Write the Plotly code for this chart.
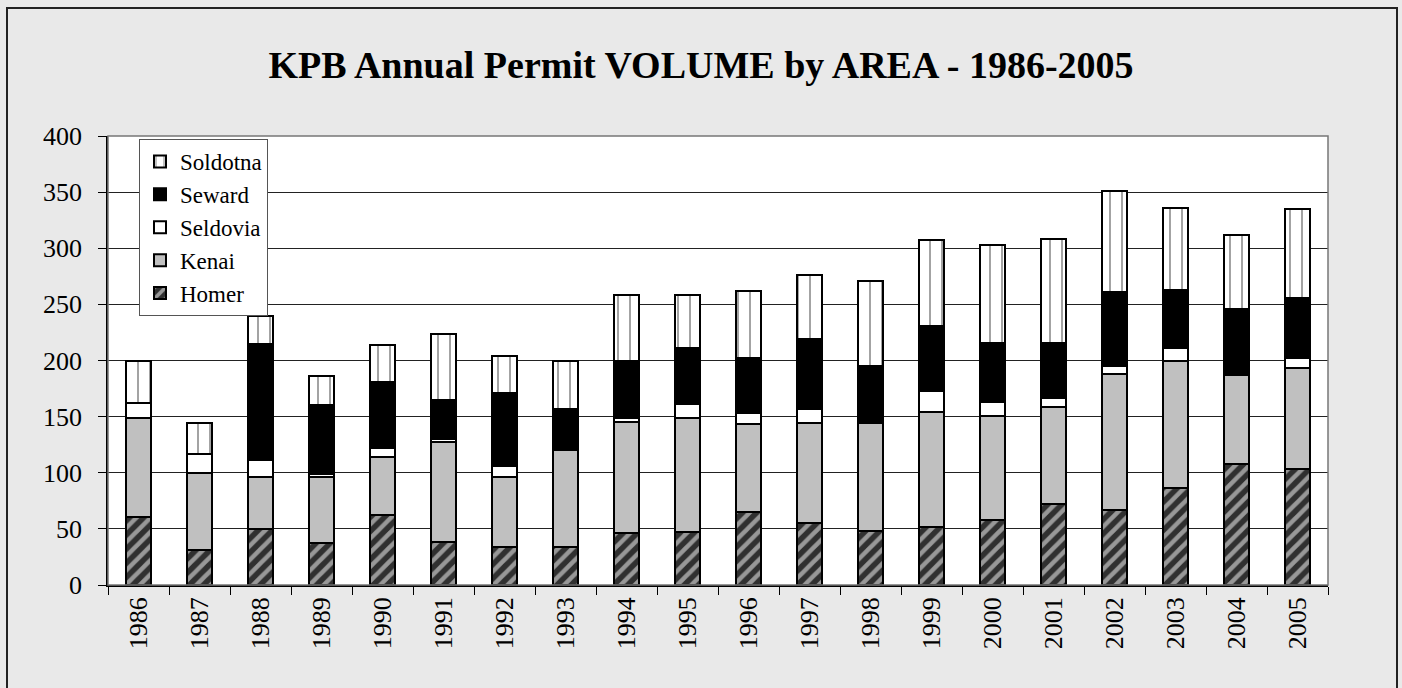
import plotly.graph_objects as go

years = [str(y) for y in range(1986, 2006)]
homer    = [61, 31, 50, 37, 62, 38, 34, 34, 46, 47, 65, 55, 48, 52, 58, 72, 67, 86, 108, 103]
kenai    = [88, 69, 46, 59, 52, 89, 62, 86, 99, 102, 78, 89, 96, 102, 93, 87, 121, 114, 79, 90]
seldovia = [13, 17, 15, 3, 8, 3, 10, 0, 4, 12, 10, 13, 0, 19, 12, 8, 7, 11, 2, 9]
seward   = [0, 0, 104, 61, 59, 35, 65, 37, 51, 50, 49, 62, 51, 58, 53, 49, 66, 52, 57, 54]
soldotna = [38, 27, 25, 26, 33, 59, 33, 43, 58, 47, 60, 57, 76, 76, 87, 92, 90, 73, 66, 79]

FONT = "Liberation Serif"
line = dict(color="black", width=2)

fig = go.Figure()
fig.add_trace(go.Bar(name="Homer", x=years, y=homer,
                     marker=dict(color="#303030", line=line,
                                 pattern=dict(shape="/", fgcolor="white", bgcolor="#303030",
                                              size=10, solidity=0.45, fillmode="overlay"))))
fig.add_trace(go.Bar(name="Kenai", x=years, y=kenai,
                     marker=dict(color="#c0c0c0", line=line)))
fig.add_trace(go.Bar(name="Seldovia", x=years, y=seldovia,
                     marker=dict(color="white", line=line)))
fig.add_trace(go.Bar(name="Seward", x=years, y=seward,
                     marker=dict(color="black", line=line)))
fig.add_trace(go.Bar(name="Soldotna", x=years, y=soldotna,
                     marker=dict(color="white", line=line,
                                 pattern=dict(shape="|", fgcolor="#333333", bgcolor="white",
                                              size=12, solidity=0.15, fillmode="overlay"))))

L, R, T, B = 108, 1328, 136, 585
W, H = 1402, 688
def px(x): return (x - L) / (R - L)
def py(y): return (B - y) / (B - T)

fig.update_layout(
    width=W, height=H,
    barmode="stack", bargap=0.59,
    paper_bgcolor="#e9e9e9", plot_bgcolor="white",
    margin=dict(l=L, r=W - R, t=T, b=H - B, pad=0),
    font=dict(family=FONT, color="black", size=25),
    title=dict(text="<b>KPB Annual Permit VOLUME by AREA - 1986-2005</b>",
               x=0.5, xanchor="center", y=1 - 65 / H, yanchor="middle",
               font=dict(family=FONT, size=38, color="black")),
    legend=dict(x=px(139), y=py(139), xanchor="left", yanchor="top",
                traceorder="reversed", bgcolor="white", bordercolor="#555555",
                borderwidth=1, font=dict(family=FONT, size=23),
                itemwidth=30),
    xaxis=dict(type="category", tickangle=-90, ticks="outside", ticklen=8,
               tickson="boundaries", tickcolor="black", showline=True,
               linecolor="black", linewidth=1.5, showgrid=False,
               tickfont=dict(family=FONT, size=26)),
    yaxis=dict(range=[0, 400], dtick=50, ticks="outside", ticklen=8,
               tickcolor="black", showline=True, linecolor="black", linewidth=1.5,
               showgrid=True, gridcolor="#222222", gridwidth=1, zeroline=False,
               ticklabelstandoff=11,
               tickfont=dict(family=FONT, size=26)),
    shapes=[
        dict(type="rect", xref="paper", yref="paper",
             x0=px(7), x1=px(1397), y0=py(700), y1=py(8),
             fillcolor="rgba(0,0,0,0)", line=dict(color="#222222", width=2), layer="below"),
        dict(type="rect", xref="paper", yref="paper",
             x0=0, x1=1, y0=0, y1=1, line=dict(color="#777777", width=1.5),
             fillcolor="rgba(0,0,0,0)", layer="above"),
    ],
)

fig.write_html("out.html", config={"displayModeBar": False},
               post_script="document.body.style.margin='0';")
